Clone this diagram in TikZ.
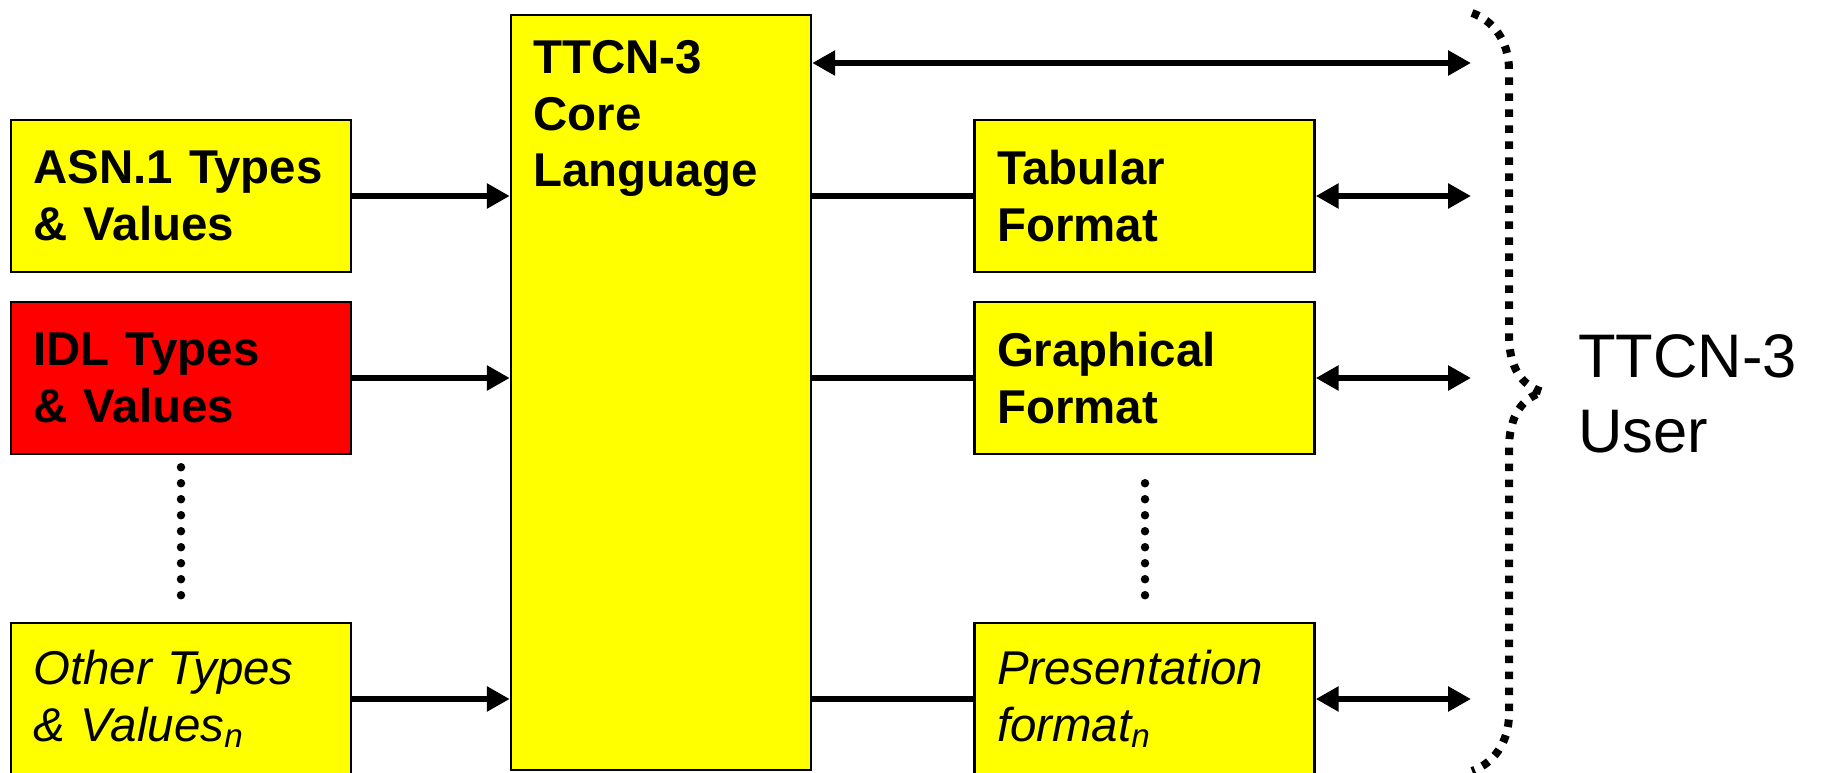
\documentclass[tikz,border=0pt]{standalone}
\usepackage{fontspec}
\setmainfont{Liberation Sans}
\usetikzlibrary{arrows.meta}

\definecolor{boxyellow}{RGB}{255,255,0}
\definecolor{boxred}{RGB}{255,0,0}

\begin{document}
\begin{tikzpicture}[x=.02cm, y=-.02cm,
    box/.style={draw, line width=.05cm, fill=boxyellow, minimum width=6.8cm, minimum height=3.04cm,
        text width=5.9cm, inner xsep=.45cm, inner ysep=0, align=left,
        font=\bfseries\fontsize{27}{32.4}\selectfont},
    italbox/.style={box, font=\itshape\fontsize{27}{32.4}\selectfont},
    conn/.style={line width=.12cm},
    onearrow/.style={-{Triangle[length=.46cm, width=.48cm]}},
    twoarrow/.style={{Triangle[length=.46cm, width=.48cm]}-{Triangle[length=.46cm, width=.48cm]}},
    dotline/.style={line width=.17cm, line cap=round, dash pattern=on 0pt off .32cm}]

\useasboundingbox (0,0) rectangle (1823,773);

\node[box] (asn) at (181,196) {ASN.1 Types\\\& Values};
\node[box, fill=boxred] (idl) at (181,378) {IDL Types\\\& Values};
\node[italbox] (oth) at (181,699) {Other Types\\\& Values\textsubscript{n}};

\node[box, minimum width=6cm, minimum height=15.1cm, text width=5.1cm] (core) at (661,392.5) {};
\node[anchor=base west, align=left, inner sep=0, font=\bfseries\fontsize{27}{32.4}\selectfont] (coretxt) at (533,187) {TTCN-3\\Core\\Language};

\node[box] (tab) at (1144.5,196) {Tabular\\Format};
\node[box] (gra) at (1144.5,378) {Graphical\\Format};
\node[italbox] (pre) at (1144.5,699) {Presentation\\format\textsubscript{n}};

\coordinate (u0) at (1471,63);
\coordinate (u1) at (1471,196);
\coordinate (u2) at (1471,378);
\coordinate (u3) at (1471,699);

\draw[conn, onearrow] (asn) -- (asn -| core.west);
\draw[conn, onearrow] (idl) -- (idl -| core.west);
\draw[conn, onearrow] (oth) -- (oth -| core.west);

\draw[conn] (tab -| core.east) -- (tab);
\draw[conn] (gra -| core.east) -- (gra);
\draw[conn] (pre -| core.east) -- (pre);

\draw[conn, twoarrow] (u0 -| core.east) -- (u0);
\draw[conn, twoarrow] (tab) -- (u1);
\draw[conn, twoarrow] (gra) -- (u2);
\draw[conn, twoarrow] (pre) -- (u3);

\draw[dotline, shorten <=.24cm, shorten >=.4cm] (idl.south) -- (oth.north);
\draw[dotline, shorten <=.56cm, shorten >=.4cm] (gra.south -| 1145,0) -- (pre.north -| 1145,0);

\draw[line width=.16cm, dash pattern=on .15cm off .17cm] (1472,13) .. controls (1492,20) and (1509,40) .. (1509,70) -- (1509,335) .. controls (1509,368) and (1522,386) .. (1543,392) .. controls (1522,398) and (1509,416) .. (1509,449) -- (1509,714) .. controls (1509,744) and (1492,764) .. (1472,771);

\node[anchor=base west, align=left, inner sep=0, font=\fontsize{35}{43}\selectfont] (user) at (1578,453) {TTCN-3\\User};

\end{tikzpicture}
\end{document}
